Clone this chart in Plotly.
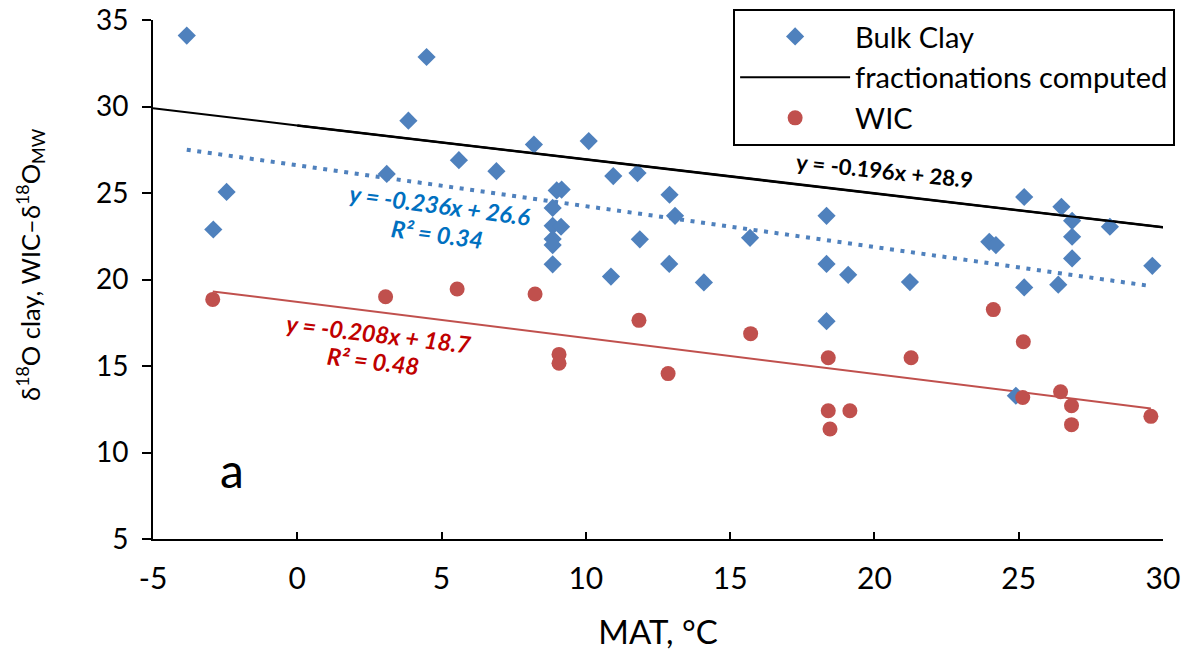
import plotly.graph_objects as go

# ---- data ----
bulk_x = [-3.83, -2.91, -2.45, 3.10, 3.85, 4.48, 5.60, 6.90, 8.20, 10.10,
          10.95, 11.79, 8.99, 9.16, 8.85, 12.90, 13.09, 8.85, 9.14, 8.85,
          8.85, 8.85, 11.87, 10.87, 12.89, 14.09, 15.69, 18.34, 18.34, 18.34,
          19.09, 21.23, 23.98, 24.21, 25.19, 25.19, 26.48, 26.37, 26.85, 26.85,
          26.85, 28.16, 29.63, 24.90]
bulk_y = [34.10, 22.89, 25.06, 26.10, 29.18, 32.86, 26.90, 26.26, 27.80, 28.00,
          25.98, 26.15, 25.15, 25.20, 24.14, 24.90, 23.68, 23.10, 23.05, 22.34,
          21.99, 20.88, 22.32, 20.17, 20.90, 19.83, 22.41, 23.68, 20.90, 17.59,
          20.27, 19.85, 22.18, 21.99, 24.77, 19.54, 24.20, 19.70, 23.39, 22.47,
          21.22, 23.05, 20.79, 13.28]

wic_x = [-2.93, 3.06, 5.54, 8.24, 11.84, 15.71, 9.07, 9.07, 12.85, 18.40,
         18.40, 18.46, 19.15, 21.27, 24.12, 25.16, 25.14, 26.45, 26.83, 26.83,
         29.58]
wic_y = [18.85, 19.00, 19.45, 19.16, 17.64, 16.87, 15.67, 15.16, 14.56, 15.48,
         12.41, 11.36, 12.41, 15.48, 18.26, 16.40, 13.18, 13.51, 12.70, 11.61,
         12.09]

frac_x = [-5, 0, 30]
frac_y = [29.90, 28.90, 23.02]

# trendlines: slope, intercept
bulk_trend = (-0.236, 26.6)
wic_trend = (-0.208, 18.7)
frac_trend = (-0.196, 28.9)

x_ticks = [-5, 0, 5, 10, 15, 20, 25, 30]
y_ticks = [5, 10, 15, 20, 25, 30, 35]

BLUE = "#4F81BD"
RED = "#C0504D"
FONT = "Lato"


def tline(params, x0, x1):
    m, b = params
    return [x0, x1], [m * x0 + b, m * x1 + b]


fig = go.Figure()

# trendlines (no legend)
bx, by = tline(bulk_trend, min(bulk_x), max(bulk_x))
fig.add_trace(go.Scatter(x=bx, y=by, mode="lines", showlegend=False,
                         line=dict(color=BLUE, width=4, dash="4px,6.6px")))
wx, wy = tline(wic_trend, min(wic_x), max(wic_x))
fig.add_trace(go.Scatter(x=wx, y=wy, mode="lines", showlegend=False,
                         line=dict(color=RED, width=2)))
fx, fy = tline(frac_trend, 0, 30)
fig.add_trace(go.Scatter(x=fx, y=fy, mode="lines", showlegend=False,
                         line=dict(color="black", width=2.5)))

fig.add_trace(go.Scatter(x=bulk_x, y=bulk_y, mode="markers", name="Bulk Clay",
                         legendgroup="a", legendrank=1,
                         marker=dict(symbol="diamond", size=14, color=BLUE)))
fig.add_trace(go.Scatter(x=frac_x, y=frac_y, mode="lines", name="fractionations computed",
                         legendgroup="b", legendrank=2,
                         line=dict(color="black", width=2)))
fig.add_trace(go.Scatter(x=wic_x, y=wic_y, mode="markers", name="WIC",
                         legendgroup="c", legendrank=3,
                         marker=dict(symbol="circle", size=15, color=RED)))

annots = [
    dict(x=20.36, y=26.32, text="<b>y = -0.196x + 28.9</b>", color="black", angle=6, size=22),
    dict(x=4.94, y=24.31, text="<b><i>y = -0.236x + 26.6</i></b>", color="#0070C0", angle=7.5, size=23.5),
    dict(x=4.84, y=22.64, text="<b><i>R² = 0.34</i></b>", color="#0070C0", angle=7.5, size=23.5),
    dict(x=2.83, y=16.84, text="<b><i>y = -0.208x + 18.7</i></b>", color="#C00000", angle=6.7, size=23.5),
    dict(x=2.62, y=15.29, text="<b><i>R² = 0.48</i></b>", color="#C00000", angle=6.7, size=23.5),
]
for a in annots:
    fig.add_annotation(x=a["x"], y=a["y"], xref="x", yref="y", text=a["text"],
                       showarrow=False, textangle=a["angle"],
                       font=dict(family=FONT, size=a["size"], color=a["color"]))

fig.add_annotation(x=-2.26, y=9.0, xref="x", yref="y", text="a", showarrow=False,
                   font=dict(family=FONT, size=48, color="black"))

# y-axis title (placed like the reference, slightly above plot centre)
fig.add_annotation(x=-0.1218, y=0.53, xref="paper", yref="paper",
                   text="δ<sup>18</sup>O clay, WIC–δ<sup>18</sup>O<sub>MW</sub>",
                   showarrow=False, textangle=-90, xanchor="center", yanchor="middle",
                   font=dict(family=FONT, size=25.5, color="black"))

fig.update_layout(
    width=1186, height=659,
    margin=dict(l=153, r=23, t=20, b=120, autoexpand=False),
    paper_bgcolor="white", plot_bgcolor="white",
    font=dict(family=FONT, color="black"),
    showlegend=True,
    legend=dict(x=1.012, xanchor="right", y=1.021, yanchor="top",
                bordercolor="black", borderwidth=2, bgcolor="white",
                font=dict(family=FONT, size=29, color="black"),
                tracegroupgap=0, itemwidth=110),
    xaxis=dict(range=[-5, 30], tickvals=x_ticks, ticktext=[str(v) for v in x_ticks],
               showgrid=False, zeroline=False, showline=True, linecolor="black",
               linewidth=2, ticks="inside", ticklen=7, tickwidth=2, tickcolor="black",
               tickfont=dict(family=FONT, size=30), ticklabelstandoff=12,
               ticklabeloverflow="allow",
               title=dict(text="MAT, °C", font=dict(family=FONT, size=33), standoff=27)),
    yaxis=dict(range=[5, 35], tickvals=y_ticks, ticktext=[str(v) for v in y_ticks],
               showgrid=False, zeroline=False, showline=True, linecolor="black",
               linewidth=2, ticks="outside", ticklen=9, tickwidth=2, tickcolor="black",
               tickfont=dict(family=FONT, size=28), ticklabelstandoff=8,
               ticklabeloverflow="allow"),
)

fig.write_html("out.html")
